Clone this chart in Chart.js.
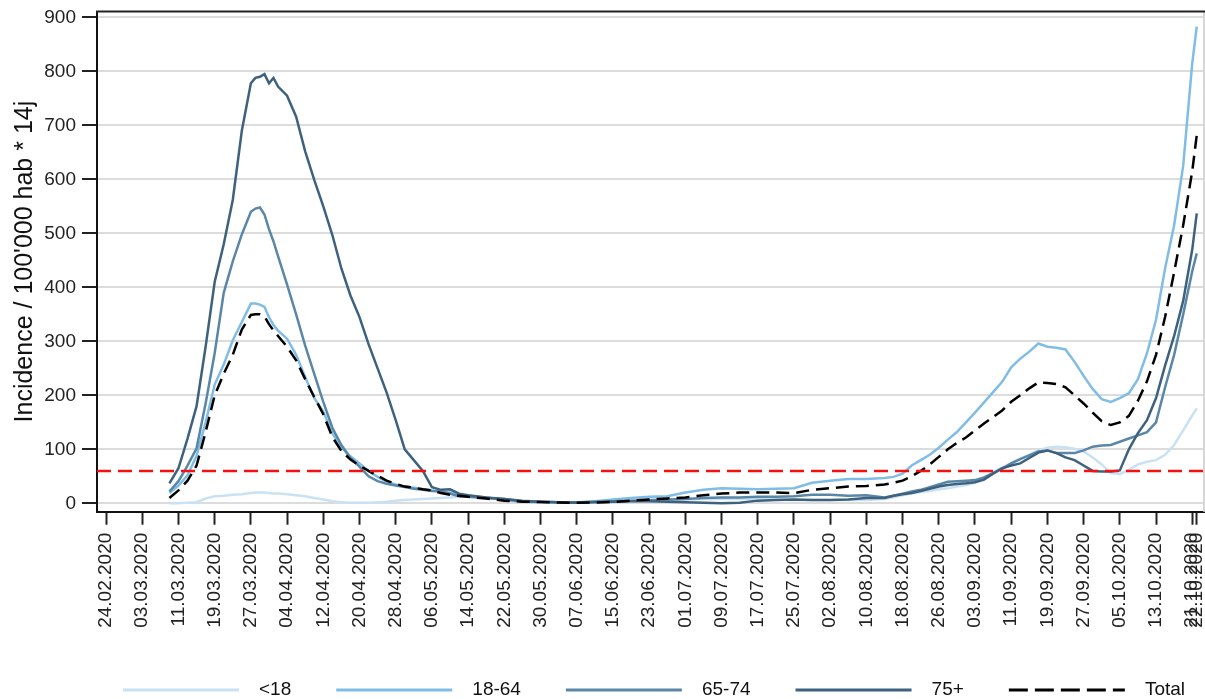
<!DOCTYPE html>
<html>
<head>
<meta charset="utf-8">
<script src="https://cdn.jsdelivr.net/npm/chart.js@4.4.1/dist/chart.umd.min.js"></script>
<style>
html,body{margin:0;padding:0;background:#fff;overflow:hidden}
#wrap{position:relative;width:1205px;height:699px}
</style>
</head>
<body>
<div id="wrap"><canvas id="c"></canvas></div>
<script>
// ---------- data ----------
const dates = [
 "09.03.2020","11.03.2020","13.03.2020","15.03.2020","17.03.2020","19.03.2020","21.03.2020","23.03.2020","25.03.2020","27.03.2020",
 "28.03.2020","29.03.2020","30.03.2020","31.03.2020","01.04.2020",
 "02.04.2020","04.04.2020","06.04.2020","08.04.2020","10.04.2020","12.04.2020","14.04.2020","16.04.2020","18.04.2020","20.04.2020",
 "22.04.2020","24.04.2020","26.04.2020","28.04.2020","30.04.2020","02.05.2020","04.05.2020","06.05.2020","08.05.2020","10.05.2020",
 "12.05.2020","14.05.2020",
 "18.05.2020","22.05.2020","26.05.2020","30.05.2020","03.06.2020","07.06.2020","11.06.2020","15.06.2020","19.06.2020","23.06.2020",
 "27.06.2020","01.07.2020","05.07.2020","09.07.2020","13.07.2020","17.07.2020","21.07.2020","25.07.2020","29.07.2020","02.08.2020",
 "06.08.2020","10.08.2020",
 "14.08.2020","16.08.2020","18.08.2020","20.08.2020","22.08.2020","24.08.2020","26.08.2020","28.08.2020","30.08.2020","01.09.2020",
 "03.09.2020","05.09.2020","07.09.2020","09.09.2020","11.09.2020","13.09.2020","15.09.2020","17.09.2020","19.09.2020","21.09.2020",
 "23.09.2020","25.09.2020","27.09.2020","29.09.2020","01.10.2020","03.10.2020","05.10.2020","07.10.2020","09.10.2020","11.10.2020",
 "13.10.2020","15.10.2020","17.10.2020","19.10.2020","21.10.2020","22.10.2020"
];

const under18 = [
 0,0,1,2,9,13,14,16,17,19,
 20,20,20,19,18,
 18,17,15,13,10,7,4,2,1,1,1,2,3,5,6,7,8,9,10,11,12,12,
 10,7,4,2,1,1,2,3,4,5,6,7,8,8,8,8,7,6,6,6,6,6,
 8,11,15,18,21,23,26,28,31,34,38,48,58,66,75,83,90,98,103,105,
 104,101,96,85,72,56,54,62,72,77,80,90,108,135,163,176
];

const age18to64 = [
 19,33,52,88,150,220,257,302,336,370,
 370,368,364,345,330,
 320,305,275,234,195,170,130,103,87,74,60,49,40,35,31,29,26,24,22,20,17,14,
 11,6,3,2,1,1,4,7,10,12,13,20,25,28,27,26,27,28,38,42,45,45,
 47,49,55,70,80,90,103,118,132,150,168,187,206,225,252,268,281,296,290,288,
 285,262,236,212,193,188,195,204,230,278,340,435,515,625,815,883
];

const age65to74 = [
 22,41,70,102,185,278,390,448,498,540,
 546,548,535,508,485,
 458,405,350,292,240,188,140,108,84,68,50,41,36,33,30,27,25,23,22,18,13,12,
 10,8,5,3,2,2,3,4,5,6,7,8,10,11,11,12,12,13,16,16,14,15,
 11,14,18,22,25,30,35,40,41,42,43,48,56,64,74,82,89,96,98,93,
 93,93,98,105,107,108,114,120,126,132,150,215,275,350,430,463
];

const age75plus = [
 37,65,120,180,290,410,480,562,690,778,
 788,790,795,778,788,
 772,755,716,652,599,550,497,435,385,345,295,250,205,154,100,80,60,30,25,26,18,15,
 11,8,4,3,2,1,2,3,4,4,3,2,1,0,1,5,6,7,6,6,7,10,
 10,14,17,19,23,27,31,34,36,37,39,44,55,65,70,74,84,94,98,93,
 85,80,70,60,59,59,61,100,130,154,195,255,310,375,470,537
];

const total = [
 10,24,42,70,132,200,240,275,322,349,
 350,350,346,332,320,
 310,290,265,230,197,165,123,97,81,70,60,51,42,36,31,29,26,24,19,16,14,12,
 9,5,3,2.5,1.5,1,1.5,2.5,5,7,9,11,15,18,20,20,20,19,25,28,31,32,
 35,38,42,50,60,72,86,100,112,122,135,148,160,172,188,200,213,224,223,221,
 215,200,185,168,152,145,150,162,190,226,275,345,428,515,615,682
];

const seriesNames = ["<18", "18-64", "65-74", "75+", "Total"];
const threshold = 60;

const xTickLabels = [
 "24.02.2020","03.03.2020","11.03.2020","19.03.2020","27.03.2020","04.04.2020","12.04.2020","20.04.2020",
 "28.04.2020","06.05.2020","14.05.2020","22.05.2020","30.05.2020","07.06.2020","15.06.2020","23.06.2020",
 "01.07.2020","09.07.2020","17.07.2020","25.07.2020","02.08.2020","10.08.2020","18.08.2020","26.08.2020",
 "03.09.2020","11.09.2020","19.09.2020","27.09.2020","05.10.2020","13.10.2020","21.10.2020","22.10.2020"
];
const yTicks = [0,100,200,300,400,500,600,700,800,900];
const yTitle = "Incidence / 100'000 hab * 14j";

// ---------- helpers ----------
function dayIndex(s){
  const p = s.split('.').map(Number);
  const o = xTickLabels[0].split('.').map(Number);
  return Math.round((Date.UTC(p[2],p[1]-1,p[0]) - Date.UTC(o[2],o[1]-1,o[0]))/86400000);
}
const xs = dates.map(dayIndex);
const pts = arr => arr.map((v,i)=>({x: xs[i], y: v}));

const FONT = "'Liberation Sans', Arial, sans-serif";

const thresholdPlugin = {
  id: 'thresholdLine',
  afterDatasetsDraw(chart){
    const {ctx, chartArea:a, scales:{y}} = chart;
    const py = y.getPixelForValue(threshold);
    ctx.save();
    ctx.strokeStyle = '#f41010';
    ctx.lineWidth = 2.5;
    ctx.setLineDash([14,7]);
    ctx.beginPath(); ctx.moveTo(a.left, py); ctx.lineTo(a.right, py); ctx.stroke();
    ctx.restore();
  }
};

const framePlugin = {
  id: 'frame',
  afterDraw(chart){
    const {ctx, chartArea:a} = chart;
    ctx.save();
    ctx.setLineDash([]);
    ctx.strokeStyle = '#d6d6d6'; ctx.lineWidth = 2;
    ctx.beginPath(); ctx.moveTo(a.right, a.top); ctx.lineTo(a.right, a.bottom); ctx.stroke();
    ctx.strokeStyle = '#222'; ctx.lineWidth = 2;
    ctx.beginPath(); ctx.moveTo(a.left-1, a.top); ctx.lineTo(a.right+1, a.top); ctx.stroke();
    ctx.restore();
  }
};

const legendPlace = {
  id: 'legendPlace',
  beforeDraw(chart){
    const lg = chart.legend;
    if (!lg) return;
    lg.left = 8; lg.right = 1300;
    lg.top = 690 - 45 - 9.5;
  }
};

const ds = (label, data, color, extra) => Object.assign({
  label, data: pts(data), borderColor: color, backgroundColor: color,
  borderWidth: 2.5, pointRadius: 0, tension: 0, fill: false
}, extra || {});

new Chart(document.getElementById('c'), {
  type: 'line',
  data: {
    datasets: [
      ds(seriesNames[0], under18, '#c9e1f4', {order: 4}),
      ds(seriesNames[1], age18to64, '#80bde6', {order: 3}),
      ds(seriesNames[2], age65to74, '#5a87a8', {order: 2}),
      ds(seriesNames[3], age75plus, '#3e627e', {order: 1}),
      ds(seriesNames[4], total, '#000000', {order: 0, borderDash: [13,7], borderWidth: 2.5})
    ]
  },
  options: {
    responsive: true, maintainAspectRatio: false, animation: false, devicePixelRatio: 1,
    layout: {padding: {top: 11.5, right: 1, left: 0, bottom: 0}},
    plugins: {
      tooltip: {enabled: false},
      legend: {
        position: 'bottom',
        maxHeight: 40,
        labels: {
          usePointStyle: true, pointStyle: 'line', pointStyleWidth: 116,
          padding: 45, color: '#111', font: {family: FONT, size: 19},
          sort: (a, b) => a.datasetIndex - b.datasetIndex,
          generateLabels(chart){
            const items = Chart.defaults.plugins.legend.labels.generateLabels(chart);
            items.forEach(it => {
              const d = chart.data.datasets[it.datasetIndex];
              it.text = '  ' + it.text;
              it.pointStyle = 'line';
              it.strokeStyle = d.borderColor;
              it.lineWidth = 3;
              it.lineDash = d.borderDash ? [19, 7] : [];
            });
            return items;
          }
        }
      }
    },
    scales: {
      x: {
        type: 'linear', min: -2, max: 242.6,
        afterBuildTicks(s){ s.ticks = xTickLabels.map(l => ({value: dayIndex(l)})); },
        afterFit(s){
          const lh = s.chart.legend ? s.chart.legend.height : 0;
          s.height = 699 - 511.7 - lh;
          s.paddingLeft = 0; s.paddingRight = 0;
        },
        ticks: {
          autoSkip: false, minRotation: 90, maxRotation: 90, padding: 8,
          color: '#222', font: {family: FONT, size: 19},
          callback: (v, i) => xTickLabels[i]
        },
        grid: {drawOnChartArea: false, drawTicks: true, tickLength: 13, tickColor: '#222', tickWidth: 2},
        border: {display: true, color: '#111', width: 2}
      },
      y: {
        type: 'linear', min: -15.5, max: 911,
        afterBuildTicks(s){ s.ticks = yTicks.map(v => ({value: v})); },
        afterFit(s){ s.width = 97; s.paddingTop = 0; s.paddingBottom = 0; },
        ticks: {padding: 6, color: '#222', font: {family: FONT, size: 19}, callback: v => String(v)},
        grid: {color: '#dcdcdc', lineWidth: 2, tickLength: 15, tickColor: '#222', tickWidth: 2},
        border: {display: true, color: '#111', width: 2},
        title: {display: true, text: yTitle, color: '#111', font: {family: FONT, size: 25}, padding: {top: 10.6, bottom: 0}}
      }
    }
  },
  plugins: [thresholdPlugin, framePlugin, legendPlace]
});
</script>
</body>
</html>
